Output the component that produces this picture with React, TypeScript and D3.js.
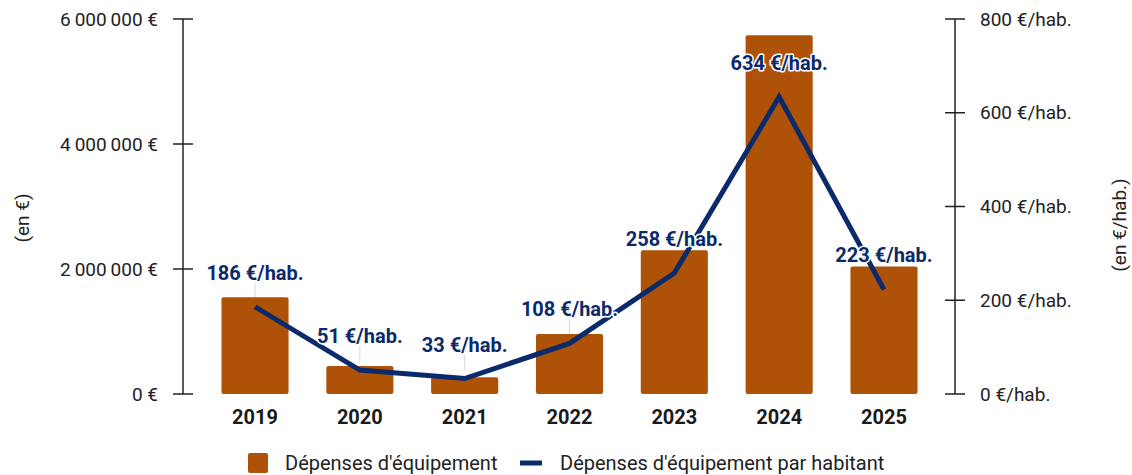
import React from "react";
import * as d3 from "d3";

const years = ["2019", "2020", "2021", "2022", "2023", "2024", "2025"];
const depenses = [1550000, 450000, 270000, 960000, 2300000, 5740000, 2040000];
const parHabitant = [186, 51, 33, 108, 258, 634, 223];
const leftTicks = [0, 2000000, 4000000, 6000000];
const rightTicks = [0, 200, 400, 600, 800];

const W = 1132;
const H = 475;
const BAR = "#AD5206";
const NAVY = "#0B2A6B";

const fmtEuro = (v: number) =>
  v.toString().replace(/\B(?=(\d{3})+(?!\d))/g, "\u2009") + " €";

export default function App() {
  const axL = 183;
  const axR = 955;
  const top = 19;
  const bottom = 394;
  const x = d3.scaleBand<string>().domain(years).range([202.6, 936.4]).paddingInner(0.36).paddingOuter(0.18);
  const yL = d3.scaleLinear().domain([0, 6000000]).range([bottom, top]);
  const yR = d3.scaleLinear().domain([0, 800]).range([bottom, top]);
  const cx = (y: string) => (x(y) ?? 0) + x.bandwidth() / 2;
  const line = d3
    .line<number>()
    .x((_, i) => cx(years[i]))
    .y((d) => yR(d));
  const font = "Roboto, sans-serif";
  return (
    <svg width={W} height={H} style={{ position: "absolute", left: 0, top: 0, fontFamily: font }}>
      <rect width={W} height={H} fill="#fff" />
      {parHabitant.map((v, i) => (
        <line key={"ll" + i} x1={cx(years[i])} x2={cx(years[i])} y1={yR(v) - 24} y2={yR(v) - 9} stroke="#d8d8d8" strokeWidth={1} />
      ))}
      {depenses.map((v, i) => (
        <rect key={"b" + i} x={x(years[i])} y={yL(v)} width={x.bandwidth()} height={bottom - yL(v)} fill={BAR} rx={2} />
      ))}
      <line x1={axL} x2={axL} y1={top} y2={bottom} stroke="#222" strokeWidth={1.5} />
      {leftTicks.map((t) => (
        <g key={"lt" + t}>
          <line x1={axL - 10} x2={axL + 10} y1={yL(t)} y2={yL(t)} stroke="#222" strokeWidth={1.5} />
          <text x={158} y={yL(t)} dy="0.35em" textAnchor="end" fontSize={19} fill="#222">
            {fmtEuro(t)}
          </text>
        </g>
      ))}
      <line x1={axR} x2={axR} y1={top} y2={bottom} stroke="#222" strokeWidth={1.5} />
      {rightTicks.map((t) => (
        <g key={"rt" + t}>
          <line x1={axR - 10} x2={axR + 10} y1={yR(t)} y2={yR(t)} stroke="#222" strokeWidth={1.5} />
          <text x={980} y={yR(t)} dy="0.35em" textAnchor="start" fontSize={19} fill="#222">
            {t + " €/hab."}
          </text>
        </g>
      ))}
      <text transform="translate(29,218) rotate(-90)" textAnchor="middle" fontSize={19} fill="#222">
        (en €)
      </text>
      <text transform="translate(1126,225) rotate(-90)" textAnchor="middle" fontSize={19} fill="#222">
        (en €/hab.)
      </text>
      {years.map((y) => (
        <text key={"x" + y} x={cx(y)} y={424} textAnchor="middle" fontSize={20} fontWeight="bold" fill="#1a1a1a">
          {y}
        </text>
      ))}
      <path d={line(parHabitant) ?? ""} fill="none" stroke={NAVY} strokeWidth={5} strokeLinejoin="miter" />
      {parHabitant.map((v, i) => (
        <text
          key={"vl" + i}
          x={cx(years[i])}
          y={yR(v) - 27}
          textAnchor="middle"
          fontSize={20}
          fontWeight="bold"
          fill={NAVY}
          stroke="#fff"
          strokeWidth={3}
          strokeLinejoin="round"
          style={{ paintOrder: "stroke" }}
        >
          {v + " €/hab."}
        </text>
      ))}
      <rect x={248} y={453} width={20} height={20} fill={BAR} rx={2} />
      <text x={285} y={463} dy="0.35em" fontSize={20} fill="#222">
        Dépenses d'équipement
      </text>
      <line x1={520} x2={542} y1={463} y2={463} stroke={NAVY} strokeWidth={5} />
      <text x={560} y={463} dy="0.35em" fontSize={20} fill="#222">
        Dépenses d'équipement par habitant
      </text>
    </svg>
  );
}
